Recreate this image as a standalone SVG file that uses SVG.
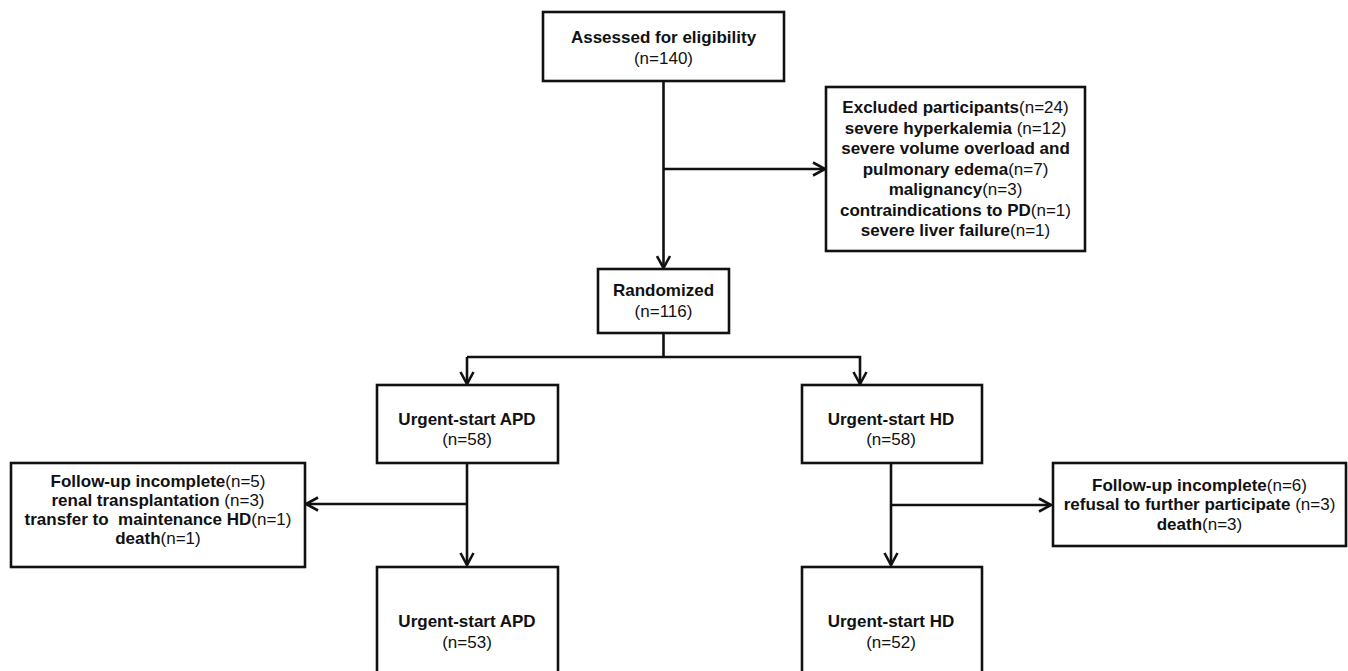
<svg xmlns="http://www.w3.org/2000/svg" width="1348" height="671" viewBox="0 0 1348 671">
<style>
.box{fill:#fff;stroke:#111;stroke-width:2.6}
.ln{fill:none;stroke:#111;stroke-width:2.6}
text{font-family:"Liberation Sans",Arial,sans-serif;font-size:17px;fill:#111;text-anchor:middle}
.b{font-weight:bold}
</style>
<defs>
<marker id="arr" markerUnits="userSpaceOnUse" markerWidth="16" markerHeight="16" viewBox="0 0 16 16" refX="13" refY="8" orient="auto">
<path d="M1,1.5 L13,8 L1,14.5" fill="none" stroke="#111" stroke-width="2.6"/>
</marker>
</defs>
<rect width="1348" height="671" fill="#fff"/>
<g id="connectors">
<line class="ln" x1="663.5" y1="81" x2="663.5" y2="268" marker-end="url(#arr)"/>
<line class="ln" x1="663.5" y1="169" x2="825" y2="169" marker-end="url(#arr)"/>
<polyline class="ln" points="663.5,333 663.5,357"/>
<polyline class="ln" points="467,357 860,357 860,384" marker-end="url(#arr)"/>
<line class="ln" x1="467" y1="357" x2="467" y2="384" marker-end="url(#arr)"/>
<line class="ln" x1="467" y1="463" x2="467" y2="565" marker-end="url(#arr)"/>
<line class="ln" x1="467" y1="504" x2="306" y2="504" marker-end="url(#arr)"/>
<line class="ln" x1="891" y1="463" x2="891" y2="565" marker-end="url(#arr)"/>
<line class="ln" x1="891" y1="505" x2="1051" y2="505" marker-end="url(#arr)"/>
</g>
<g id="assessed">
<rect class="box" x="543" y="12" width="241" height="69"/>
<text x="663.5" y="43"><tspan class="b">Assessed for eligibility</tspan></text>
<text x="663.5" y="63.5">(n=140)</text>
</g>
<g id="excluded">
<rect class="box" x="826" y="87" width="259" height="164"/>
<text x="955.5" y="113"><tspan class="b">Excluded participants</tspan>(n=24)</text>
<text x="955.5" y="133.5"><tspan class="b">severe hyperkalemia</tspan> (n=12)</text>
<text x="955.5" y="154"><tspan class="b">severe volume overload and</tspan></text>
<text x="955.5" y="174.5"><tspan class="b">pulmonary edema</tspan>(n=7)</text>
<text x="955.5" y="195"><tspan class="b">malignancy</tspan>(n=3)</text>
<text x="955.5" y="215.5"><tspan class="b">contraindications to PD</tspan>(n=1)</text>
<text x="955.5" y="236"><tspan class="b">severe liver failure</tspan>(n=1)</text>
</g>
<g id="randomized">
<rect class="box" x="598" y="269" width="131" height="64"/>
<text x="663.5" y="296"><tspan class="b">Randomized</tspan></text>
<text x="663.5" y="316.5">(n=116)</text>
</g>
<g id="apd1">
<rect class="box" x="377" y="385" width="181" height="78"/>
<text x="467" y="424.5"><tspan class="b">Urgent-start APD</tspan></text>
<text x="467" y="445">(n=58)</text>
</g>
<g id="hd1">
<rect class="box" x="802" y="385" width="180" height="78"/>
<text x="891" y="424.5"><tspan class="b">Urgent-start HD</tspan></text>
<text x="891" y="445">(n=58)</text>
</g>
<g id="fu-apd">
<rect class="box" x="11" y="463" width="294" height="104"/>
<text x="158" y="487"><tspan class="b">Follow-up incomplete</tspan>(n=5)</text>
<text x="158" y="506"><tspan class="b">renal transplantation</tspan> (n=3)</text>
<text x="158" y="525"><tspan class="b">transfer to&#160; maintenance HD</tspan>(n=1)</text>
<text x="158" y="544"><tspan class="b">death</tspan>(n=1)</text>
</g>
<g id="fu-hd">
<rect class="box" x="1053" y="463" width="293" height="83"/>
<text x="1199.5" y="490.5"><tspan class="b">Follow-up incomplete</tspan>(n=6)</text>
<text x="1199.5" y="510"><tspan class="b">refusal to further participate</tspan> (n=3)</text>
<text x="1199.5" y="529.5"><tspan class="b">death</tspan>(n=3)</text>
</g>
<g id="apd2">
<rect class="box" x="377" y="567" width="181" height="120"/>
<text x="467" y="627"><tspan class="b">Urgent-start APD</tspan></text>
<text x="467" y="648">(n=53)</text>
</g>
<g id="hd2">
<rect class="box" x="802" y="567" width="180" height="120"/>
<text x="891" y="627"><tspan class="b">Urgent-start HD</tspan></text>
<text x="891" y="648">(n=52)</text>
</g>
</svg>
